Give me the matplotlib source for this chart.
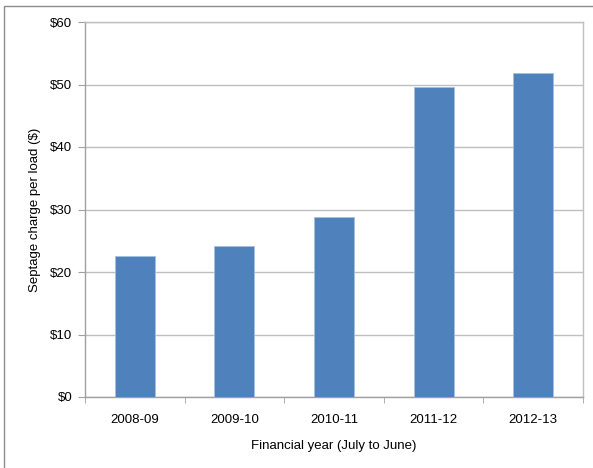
import matplotlib.pyplot as plt
from matplotlib.patches import Rectangle

# septage charge per load by financial year
years = ['2008-09', '2009-10', '2010-11', '2011-12', '2012-13']
charge = [22.5, 24.2, 28.8, 49.6, 51.9]
yticks = [0, 10, 20, 30, 40, 50, 60]
ylabels = ['$' + str(v) for v in yticks]

plt.rcParams['font.family'] = ['Liberation Sans', 'DejaVu Sans']
plt.rcParams['font.size'] = 9.5

fig = plt.figure(figsize=(5.93, 4.68), dpi=100)
# outer chart frame
fig.patches.append(Rectangle((4/593, -0.1), 1.2, 1 - 6/468 + 0.1, transform=fig.transFigure,
                             fill=False, edgecolor='#8c8c8c', linewidth=1.0))

ax = fig.add_axes([85/593, 71/468, 498/593, 375/468])
x = list(range(len(years)))
ax.bar(x, charge, width=0.4, color='#4f81bd', edgecolor='#a7bfde', linewidth=0.6, zorder=3)

ax.set_xlim(-0.5, len(years) - 0.5)
ax.set_ylim(0, 60)
ax.set_yticks(yticks)
ax.set_yticklabels(ylabels)
ax.set_xticks(x)
ax.set_xticklabels(years)
ax.set_xticks([i + 0.5 for i in range(-1, len(years))], minor=True)
ax.tick_params(axis='x', which='major', length=0, pad=12)
ax.tick_params(axis='x', which='minor', length=4, color='#a0a0a0', direction='out')
ax.tick_params(axis='y', length=5, color='#a0a0a0', direction='out', pad=4)
ax.yaxis.grid(True, color='#bfbfbf', linewidth=1.0, zorder=0)
for s in ax.spines.values():
    s.set_color('#bfbfbf')
    s.set_linewidth(1.0)
ax.spines['left'].set_color('#a0a0a0')
ax.spines['bottom'].set_color('#a0a0a0')

ax.set_xlabel('Financial year (July to June)', labelpad=10)
ax.set_ylabel('Septage charge per load ($)', labelpad=7)

plt.savefig('out.png', dpi=100)
